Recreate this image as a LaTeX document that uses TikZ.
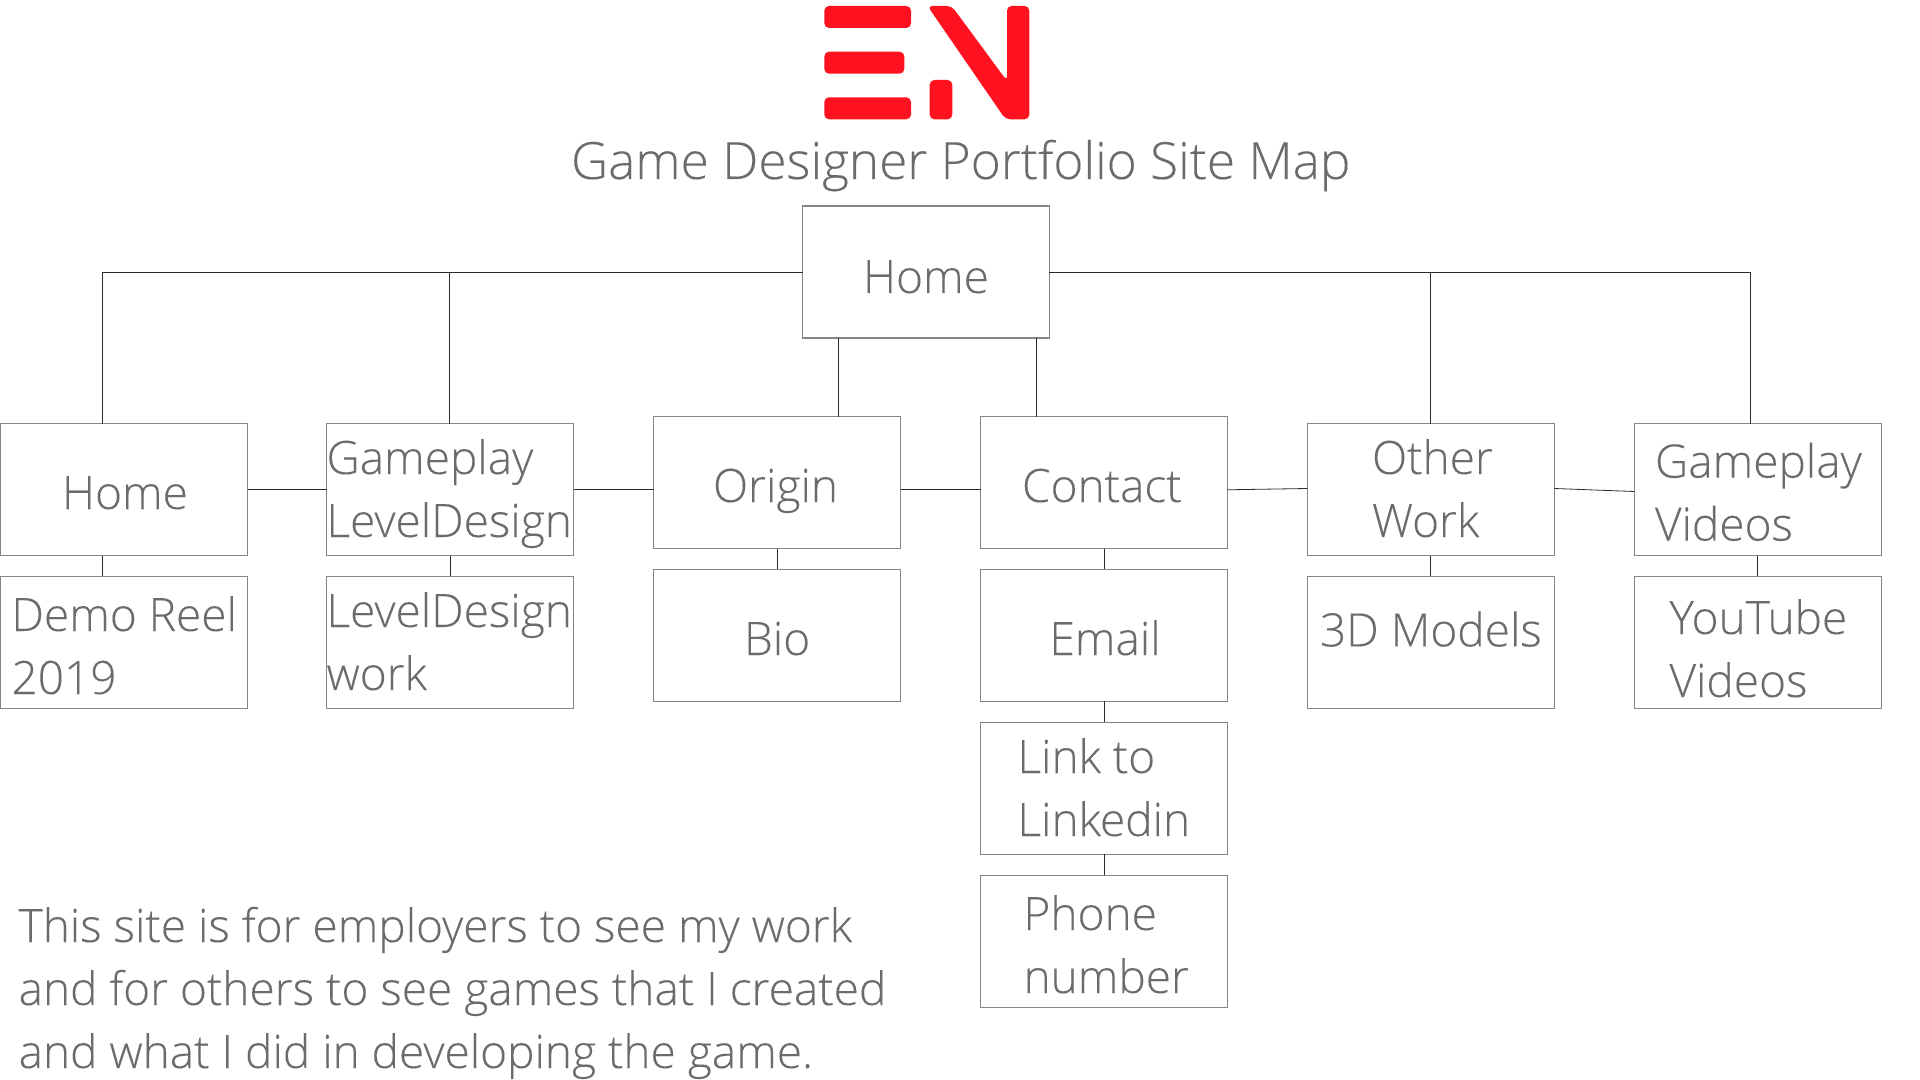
\documentclass[tikz,border=0pt]{standalone}
\usepackage{fontspec}
\setmainfont[FakeBold=0.12]{Open Sans Light}
\definecolor{boxc}{HTML}{858585}
\definecolor{txtc}{HTML}{6B6B6B}
\definecolor{linec}{HTML}{2B2B2B}
\definecolor{logor}{HTML}{FF1220}
\tikzset{
 boxn/.style={draw=boxc,line width=0.8pt,minimum width=185.2pt,minimum height=99pt,inner sep=0pt,outer sep=0pt,anchor=north west},
 txt/.style={text=txtc,font=\fontsize{34.5pt}{47.25pt}\selectfont,inner sep=0pt,outer sep=0pt,anchor=base west,align=left},
 conn/.style={draw=linec,line width=0.6pt},
 bar/.style={fill=logor,draw=none,rounded corners=3.5pt}
}
\begin{document}
\begin{tikzpicture}[x=0.75pt,y=-0.75pt]
\useasboundingbox (0,0) rectangle (1920,1080);
% logo
\fill[bar] (824.3,6) rectangle (911,28);
\fill[bar] (824.3,51.7) rectangle (904.3,73.7);
\fill[bar] (824.3,97.3) rectangle (911,119.3);
\fill[bar] (929.7,80) rectangle (952.3,119.3);
\fill[bar] (927.5,6) -- (951.7,6) -- (1007,81) -- (1007,6) -- (1029.3,6) -- (1029.3,119.3) -- (1005.5,119.3) -- cycle;
% coordinates on the boxes
\coordinate (c1) at (102.3,423.5);
\coordinate (c2) at (449.6,423.5);
\coordinate (c3) at (1430.8,423.5);
\coordinate (c4) at (1750.4,423.5);
\coordinate (c5) at (838,338);
\coordinate (c6) at (838,416.5);
\coordinate (c7) at (1036,338);
\coordinate (c8) at (1036,416.5);
% boxes
\node[boxn] (top) at (802.5,206) {};
\node[boxn] (a1) at (0.6,423.5) {};
\node[boxn] (a2) at (326.6,423.5) {};
\node[boxn] (a3) at (653.6,416.5) {};
\node[boxn] (a4) at (980.6,416.5) {};
\node[boxn] (a5) at (1307.4,423.5) {};
\node[boxn] (a6) at (1634.4,423.5) {};
\node[boxn] (b1) at (0.6,576.4) {};
\node[boxn] (b2) at (326.6,576.4) {};
\node[boxn] (b3) at (653.6,569.4) {};
\node[boxn] (b4) at (980.6,569.4) {};
\node[boxn] (b5) at (1307.4,576.4) {};
\node[boxn] (b6) at (1634.4,576.4) {};
\node[boxn] (d1) at (980.6,722.3) {};
\node[boxn] (d2) at (980.6,875.3) {};
% connectors
\draw[conn] (top.west) -| (c1);
\draw[conn] (top.west) -| (c2);
\draw[conn] (top.east) -| (c3);
\draw[conn] (top.east) -| (c4);
\draw[conn] (c5) -- (c6);
\draw[conn] (c7) -- (c8);
\draw[conn] (a1.east) -- (a2.west);
\draw[conn] (a2.east) -- (a3.west |- a2.east);
\draw[conn] (a3.east |- a2.east) -- (a4.west |- a2.east);
\coordinate (e1) at (1227.4,489.8);
\coordinate (e2) at (1307.4,488.5);
\coordinate (e3) at (1554.4,488.5);
\coordinate (e4) at (1634.4,491.5);
\draw[conn] (e1) -- (e2);
\draw[conn] (e3) -- (e4);
\coordinate (v1a) at (102.3,555.5);
\coordinate (v1b) at (102.3,576);
\coordinate (v2a) at (450,555.5);
\coordinate (v2b) at (450,576);
\draw[conn] (v1a) -- (v1b);
\draw[conn] (v2a) -- (v2b);
\draw[conn] (a3.south) -- (b3.north);
\draw[conn] (a4.south) -- (b4.north);
\draw[conn] (b4.south) -- (d1.north);
\draw[conn] (d1.south) -- (d2.north);
\draw[conn] (a5.south) -- (b5.north);
\draw[conn] (a6.south) -- (b6.north);
% texts
\node[txt,font=\fontsize{38.5pt}{47.25pt}\selectfont] (tt) at (571,179) {Game Designer Portfolio Site Map};
\node[txt] (t0) at (863,293) {Home};
\node[txt] (t1) at (62,509) {Home};
\node[txt] (t2) at (326.5,537) {Gameplay\\LevelDesign};
\node[txt] (t3) at (713,502) {Origin};
\node[txt] (t4) at (1022,502) {Contact};
\node[txt] (t5) at (1372,537) {Other\\Work};
\node[txt] (t6) at (1655,540.6) {Gameplay\\Videos};
\node[txt] (t7) at (11.5,694) {Demo Reel\\2019};
\node[txt] (t8) at (326.5,690) {LevelDesign\\work};
\node[txt] (t9) at (744,655) {Bio};
\node[txt] (t10) at (1049.5,655) {Email};
\node[txt] (t11) at (1320,646.4) {3D Models};
\node[txt] (t12) at (1669.5,697) {YouTube\\Videos};
\node[txt] (t13) at (1017.5,836) {Link to\\Linkedin};
\node[txt] (t14) at (1023.5,993) {Phone\\number};
\node[txt] (t15) at (18.6,1068) {This site is for employers to see my work\\and for others to see games that I created\\and what I did in developing the game.};
\end{tikzpicture}
\end{document}
